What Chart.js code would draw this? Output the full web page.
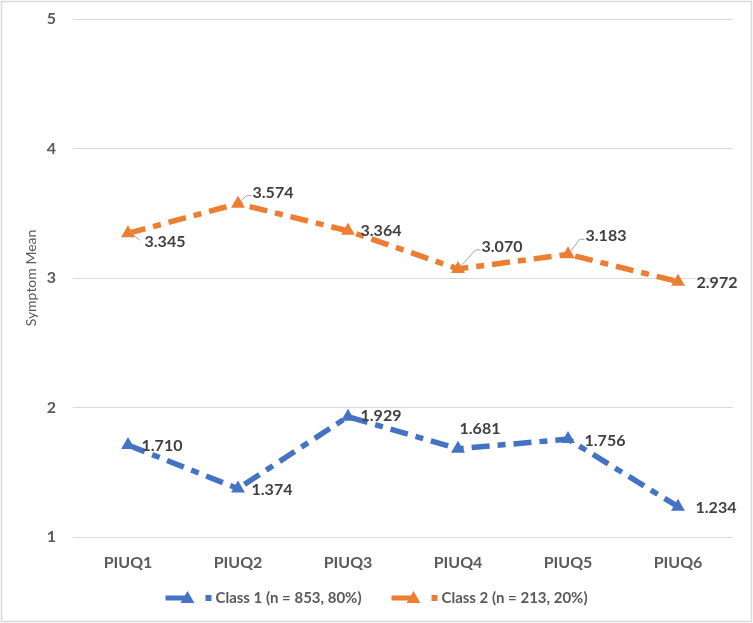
<!DOCTYPE html>
<html>
<head>
<meta charset="utf-8">
<script src="https://cdn.jsdelivr.net/npm/chart.js@4"></script>
<style>
  html, body { margin: 0; padding: 0; background: #fff; }
  #wrap { width: 753px; height: 623px; }
</style>
</head>
<body>
<div id="wrap"><canvas id="symptomChart" width="753" height="623"></canvas></div>
<script>
const categories = ['PIUQ1', 'PIUQ2', 'PIUQ3', 'PIUQ4', 'PIUQ5', 'PIUQ6'];
const class1Values = [1.710, 1.374, 1.929, 1.681, 1.756, 1.234];
const class2Values = [3.345, 3.574, 3.364, 3.070, 3.183, 2.972];
const seriesNames = ['Class 1 (n = 853, 80%)', 'Class 2 (n = 213, 20%)'];
const yTicks = [1, 2, 3, 4, 5];

const BLUE = '#4472C4';
const ORANGE = '#ED7D31';
const FONT = 'Lato, "Open Sans", sans-serif';

// label offsets from the point (centre of text), plus optional leader line
const labelOffsets = [
  [[34, 1], [34, 1], [33, -1], [22, -20], [37, 2], [38, 1]],
  [[37, 9], [35, -11], [33, 0], [44, -22], [38, -18], [39, 1]]
];
const leaders = [
  [null, null, null, null, null, null],
  [true, true, false, true, true, false]
];

const bgAndBorder = {
  id: 'bgAndBorder',
  beforeDraw(chart) {
    const c = chart.ctx;
    c.save();
    c.fillStyle = '#fff';
    c.fillRect(0, 0, chart.width, chart.height);
    c.strokeStyle = '#d9d9d9';
    c.lineWidth = 1.5;
    c.strokeRect(1.5, 1.5, chart.width - 3, chart.height - 3);
    c.restore();
  }
};

const valueLabels = {
  id: 'valueLabels',
  afterDatasetsDraw(chart) {
    const c = chart.ctx;
    c.save();
    c.font = 'bold 16px ' + FONT;
    c.fillStyle = '#404040';
    c.textAlign = 'center';
    c.textBaseline = 'middle';
    chart.data.datasets.forEach((ds, di) => {
      const meta = chart.getDatasetMeta(di);
      meta.data.forEach((pt, i) => {
        const [dx, dy] = labelOffsets[di][i];
        const text = ds.data[i].toFixed(3);
        const lx = pt.x + dx, ly = pt.y + dy;
        if (leaders[di][i]) {
          const w = c.measureText(text).width;
          c.strokeStyle = '#a6a6a6';
          c.lineWidth = 1;
          c.beginPath();
          c.moveTo(pt.x + 2, pt.y - 2);
          if (dy < -5) {
            c.lineTo(lx - w / 2 - 6, ly + 3);
            c.lineTo(lx - w / 2 - 1, ly + 3);
          } else {
            c.lineTo(lx - w / 2 - 5, ly - 2);
          }
          c.stroke();
        }
        c.fillText(text, lx, ly);
      });
    });
    c.restore();
  }
};

const bottomLegend = {
  id: 'bottomLegend',
  afterDraw(chart) {
    const c = chart.ctx;
    c.save();
    c.font = 'bold 15px ' + FONT;
    const colors = [BLUE, ORANGE];
    const y = 598;
    const itemWidths = seriesNames.map(n => 50 + c.measureText(n).width);
    const gap = 30;
    const total = itemWidths.reduce((a, b) => a + b, 0) + gap;
    let x = chart.width / 2 - total / 2;
    seriesNames.forEach((name, i) => {
      c.strokeStyle = colors[i];
      c.fillStyle = colors[i];
      c.lineWidth = 5;
      c.beginPath();
      c.moveTo(x, y);
      c.lineTo(x + 22, y);
      c.stroke();
      c.beginPath();
      c.moveTo(x + 22, y - 7);
      c.lineTo(x + 29, y + 5);
      c.lineTo(x + 15, y + 5);
      c.closePath();
      c.fill();
      c.fillRect(x + 40, y - 3, 6, 6);
      c.fillStyle = '#595959';
      c.textAlign = 'left';
      c.textBaseline = 'middle';
      c.fillText(name, x + 50, y);
      x += itemWidths[i] + gap;
    });
    c.restore();
  }
};

const ctx = document.getElementById('symptomChart').getContext('2d');

const symptomChart = new Chart(ctx, {
  type: 'line',
  data: {
    labels: categories,
    datasets: [{
      label: seriesNames[0],
      data: class1Values,
      borderColor: BLUE,
      backgroundColor: BLUE,
      borderWidth: 5.5,
      borderDash: [18, 8, 8, 8],
      pointStyle: 'triangle',
      pointRadius: 8,
      pointBorderWidth: 0,
      tension: 0
    }, {
      label: seriesNames[1],
      data: class2Values,
      borderColor: ORANGE,
      backgroundColor: ORANGE,
      borderWidth: 5.5,
      borderDash: [18, 8, 8, 8],
      pointStyle: 'triangle',
      pointRadius: 8,
      pointBorderWidth: 0,
      tension: 0
    }]
  },
  options: {
    responsive: false,
    animation: false,
    layout: { padding: { left: 0, right: 20, top: 19, bottom: 46 } },
    plugins: {
      legend: { display: false },
      tooltip: { enabled: false }
    },
    scales: {
      x: {
        offset: true,
        grid: { display: false, drawTicks: false },
        border: { display: false },
        ticks: { padding: 16, color: '#595959', font: { family: FONT, size: 16, weight: 'bold' } },
        afterFit(scale) { scale.height = 40; }
      },
      y: {
        min: 1,
        max: 5,
        afterBuildTicks(scale) { scale.ticks = yTicks.map(v => ({ value: v })); },
        grid: { color: '#d9d9d9', lineWidth: 1, drawTicks: false },
        border: { display: false },
        ticks: { padding: 17, color: '#595959', font: { family: FONT, size: 16, weight: 'bold' } },
        title: {
          display: true,
          text: 'Symptom Mean',
          color: '#595959',
          font: { family: FONT, size: 14 },
          padding: { top: 23, bottom: 0 }
        },
        afterFit(scale) {
          scale.width = 73;
          scale.paddingTop = 0;
          scale.paddingBottom = 0;
        }
      }
    }
  },
  plugins: [bgAndBorder, valueLabels, bottomLegend]
});
</script>
</body>
</html>
